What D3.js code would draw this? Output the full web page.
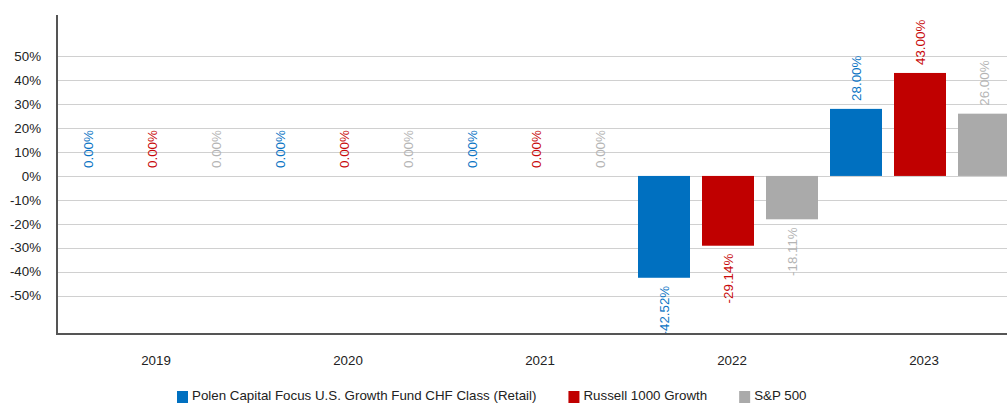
<!DOCTYPE html>
<html>
<head>
<meta charset="utf-8">
<script src="https://cdn.jsdelivr.net/npm/d3@7"></script>
<style>
  html, body { margin: 0; padding: 0; background: #fff; overflow: hidden; }
  svg { display: block; font-family: Arial, "Liberation Sans", sans-serif; }
</style>
</head>
<body>
<svg id="chart" width="1007" height="403"></svg>
<script>
const years = ["2019", "2020", "2021", "2022", "2023"];
const seriesNames = ["Polen Capital Focus U.S. Growth Fund CHF Class (Retail)", "Russell 1000 Growth", "S&P 500"];
const polenValues = [0, 0, 0, -42.52, 28.00];
const russellValues = [0, 0, 0, -29.14, 43.00];
const spValues = [0, 0, 0, -18.11, 26.00];
const yTicks = [-50, -40, -30, -20, -10, 0, 10, 20, 30, 40, 50];
const barColors = ["#0070c0", "#c00000", "#aaaaaa"];
const labelColors = ["#0a74c4", "#c80a0a", "#b4b4b4"];

const seriesValues = [polenValues, russellValues, spValues];

(function () {
const svg = d3.select("#chart");
const W = 1007, H = 403;
const mLeft = 56, mRight = 1016, mTop = 15, mBottom = 334;
const FS = 13.33;

const x = d3.scaleBand().domain(years).range([mLeft, mRight]).padding(0);
const xs = d3.scaleBand().domain(d3.range(3)).range([0, x.bandwidth()])
  .paddingInner(0.1875).paddingOuter(0.09375);
const y = d3.scaleLinear().domain([-66, 67.2]).range([mBottom, mTop]);

// gridlines
svg.append("g").selectAll("line").data(yTicks).join("line")
  .attr("x1", 57).attr("x2", W)
  .attr("y1", d => Math.round(y(d)) + 0.5).attr("y2", d => Math.round(y(d)) + 0.5)
  .attr("stroke", "#d0d0d0").attr("stroke-width", 1);

// y tick labels
svg.append("g").selectAll("text").data(yTicks).join("text")
  .attr("x", 41).attr("y", d => y(d)).attr("dy", "0.35em")
  .attr("text-anchor", "end").attr("font-size", FS).attr("fill", "#222")
  .text(d => d + "%");

// bars
const data = [];
years.forEach((yr, i) => {
  seriesValues.forEach((vals, s) => data.push({ yr, s, v: vals[i] }));
});

svg.append("g").selectAll("rect").data(data.filter(d => d.v !== 0)).join("rect")
  .attr("x", d => x(d.yr) + xs(d.s))
  .attr("width", xs.bandwidth())
  .attr("y", d => y(Math.max(0, d.v)))
  .attr("height", d => Math.abs(y(d.v) - y(0)))
  .attr("fill", d => barColors[d.s]);

// value labels
svg.append("g").selectAll("text").data(data).join("text")
  .attr("transform", d => {
    const cx = x(d.yr) + xs(d.s) + xs.bandwidth() / 2;
    const yy = d.v >= 0 ? y(d.v) - 8 : y(d.v) + 8;
    return `translate(${cx},${yy}) rotate(-90)`;
  })
  .attr("dy", "0.35em")
  .attr("text-anchor", d => d.v >= 0 ? "start" : "end")
  .attr("font-size", FS)
  .attr("fill", d => labelColors[d.s])
  .text(d => d3.format(".2f")(d.v).replace("\u2212", "-") + "%");

// axes lines
svg.append("line").attr("x1", 57).attr("x2", 57).attr("y1", mTop).attr("y2", mBottom + 1)
  .attr("stroke", "#555").attr("stroke-width", 2);
svg.append("line").attr("x1", 56).attr("x2", W).attr("y1", mBottom).attr("y2", mBottom)
  .attr("stroke", "#555").attr("stroke-width", 2);

// x labels
svg.append("g").selectAll("text").data(years).join("text")
  .attr("x", d => x(d) + x.bandwidth() / 2 + 4).attr("y", 360).attr("dy", "0.35em")
  .attr("text-anchor", "middle").attr("font-size", FS).attr("fill", "#222")
  .text(d => d);

// legend
const legend = svg.append("g");
let lx = 177;
seriesNames.forEach((name, i) => {
  legend.append("rect").attr("x", lx).attr("y", 391).attr("width", 11).attr("height", 12)
    .attr("fill", barColors[i]);
  const t = legend.append("text").attr("x", lx + 15).attr("y", 400)
    .attr("font-size", FS).attr("fill", "#222").text(name);
  lx = lx + 15 + t.node().getComputedTextLength() + 32;
});
})();
</script>
</body>
</html>
